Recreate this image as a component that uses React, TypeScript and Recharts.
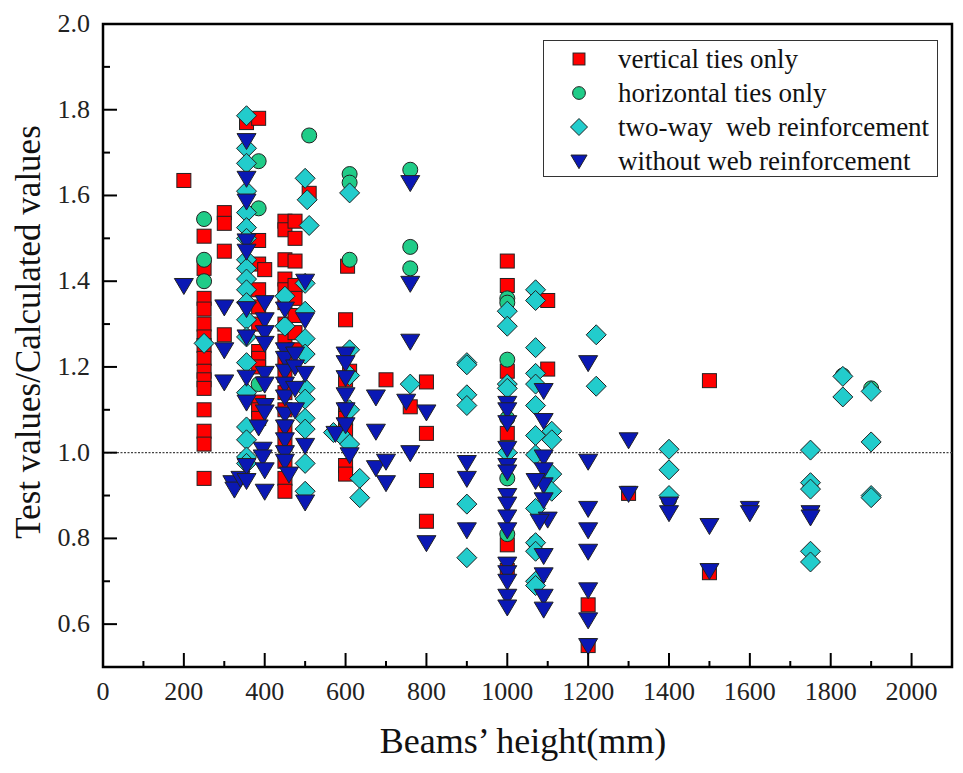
import React from 'react';
import { ScatterChart, Scatter, XAxis, YAxis, ReferenceLine, ReferenceArea, Legend } from 'recharts';

// tick values (labels only on every second one)
const xTicks = [0, 100, 200, 300, 400, 500, 600, 700, 800, 900, 1000, 1100, 1200, 1300, 1400, 1500, 1600, 1700, 1800, 1900, 2000];
const yTicks = [0.6, 0.7, 0.8, 0.9, 1.0, 1.1, 1.2, 1.3, 1.4, 1.5, 1.6, 1.7, 1.8, 1.9, 2.0];

// [beam height (mm), test / calculated]
const verticalTies: [number, number][] = [
  [200, 1.635],
  [250, 1.505], [250, 1.43], [250, 1.36], [250, 1.335], [250, 1.3], [250, 1.27], [250, 1.25], [250, 1.22],
  [250, 1.19], [250, 1.17], [250, 1.15], [250, 1.1], [250, 1.05], [250, 1.02], [250, 0.94],
  [300, 1.56], [300, 1.535], [300, 1.47], [300, 1.275],
  [355, 1.77],
  [385, 1.78], [385, 1.495], [385, 1.44], [385, 1.38], [385, 1.34], [385, 1.3], [385, 1.236], [385, 1.22],
  [385, 1.2], [385, 1.118], [385, 1.1], [385, 1.08], [400, 1.427],
  [450, 1.54], [450, 1.52], [450, 1.45], [450, 1.405], [450, 1.38], [450, 1.35], [450, 1.3], [450, 1.26],
  [450, 1.22], [450, 1.18], [450, 1.14], [450, 1.1], [450, 1.06], [450, 1.02], [450, 0.98], [450, 0.94], [450, 0.91],
  [475, 1.54], [475, 1.5], [475, 1.447], [475, 1.39], [475, 1.36], [475, 1.32], [475, 1.28], [475, 1.24],
  [510, 1.605],
  [600, 1.31], [600, 1.17], [600, 1.1], [600, 1.08], [600, 1.05], [600, 0.97], [600, 0.95], [605, 1.435], [610, 1.19],
  [700, 1.17],
  [760, 1.107],
  [800, 1.165], [800, 1.045], [800, 0.935], [800, 0.84],
  [1000, 1.447], [1000, 1.39], [1000, 1.19], [1000, 1.045], [1000, 0.785], [1000, 0.725],
  [1100, 1.355], [1100, 1.195],
  [1200, 0.645], [1200, 0.55],
  [1300, 0.905],
  [1500, 1.168], [1500, 0.72],
];

const horizontalTies: [number, number][] = [
  [250, 1.545], [250, 1.45], [250, 1.4],
  [385, 1.68], [385, 1.57], [385, 1.16],
  [510, 1.74],
  [610, 1.65], [610, 1.63], [610, 1.45],
  [760, 1.66], [760, 1.48], [760, 1.43],
  [1000, 1.36], [1000, 1.35], [1000, 1.217], [1000, 1.08], [1000, 0.94], [1000, 0.81],
  [1070, 0.79],
  [1400, 0.89],
  [1750, 0.92],
  [1830, 1.18],
  [1900, 1.15],
];

const twoWay: [number, number][] = [
  [250, 1.255],
  [355, 1.786], [355, 1.71], [355, 1.675], [355, 1.61], [355, 1.56], [355, 1.525], [355, 1.5], [355, 1.45],
  [355, 1.43], [355, 1.405], [355, 1.38], [355, 1.35], [355, 1.31], [355, 1.27], [355, 1.21], [355, 1.14],
  [355, 1.06], [355, 1.03], [355, 0.99], [355, 0.975],
  [450, 1.365], [450, 1.295],
  [500, 1.64], [505, 1.59], [510, 1.53], [500, 1.395], [500, 1.33], [500, 1.266], [500, 1.23], [500, 1.15],
  [500, 1.125], [500, 1.08], [500, 1.055], [500, 0.975], [500, 0.91],
  [570, 1.047], [590, 1.04],
  [610, 1.606], [610, 1.24], [610, 1.18], [610, 1.1], [610, 1.02],
  [635, 0.94], [635, 0.895],
  [760, 1.16],
  [900, 1.21], [900, 1.205], [900, 1.135], [900, 1.11], [900, 0.88], [900, 0.755],
  [1000, 1.33], [1000, 1.295], [1000, 1.16], [1000, 1.15], [1000, 1.0],
  [1070, 1.38], [1070, 1.355], [1070, 1.245], [1070, 1.185], [1070, 1.16], [1070, 1.11], [1070, 1.04],
  [1070, 0.995], [1070, 0.87], [1070, 0.79], [1070, 0.77], [1070, 0.7], [1070, 0.69],
  [1110, 1.05], [1110, 1.03], [1110, 0.95], [1110, 0.91],
  [1220, 1.275], [1220, 1.155],
  [1400, 1.008], [1400, 0.96], [1400, 0.9],
  [1750, 1.006], [1750, 0.93], [1750, 0.915], [1750, 0.77], [1750, 0.745],
  [1830, 1.178], [1830, 1.13],
  [1900, 1.143], [1900, 1.025], [1900, 0.9], [1900, 0.895],
];

const withoutWeb: [number, number][] = [
  [200, 1.39],
  [300, 1.34], [300, 1.24], [300, 1.165], [320, 0.93], [325, 0.915], [340, 0.94],
  [355, 1.728], [355, 1.64], [355, 1.587], [355, 1.494], [355, 1.47], [355, 1.336], [355, 1.27], [355, 1.176],
  [355, 1.118], [355, 0.97], [355, 0.935],
  [400, 1.35], [400, 1.31], [400, 1.28], [400, 1.255], [400, 1.185], [400, 1.16], [400, 1.11], [400, 1.095],
  [385, 1.06], [395, 1.008], [395, 0.99], [400, 0.96], [400, 0.91],
  [450, 1.335], [450, 1.24], [450, 1.22], [450, 1.19], [450, 1.16], [450, 1.13], [450, 1.09], [450, 1.06],
  [450, 1.03], [450, 1.0], [450, 0.98], [460, 0.95],
  [475, 1.23], [475, 1.2], [475, 1.15], [475, 1.1],
  [500, 1.4], [500, 1.31], [500, 1.185], [500, 1.017], [500, 0.885],
  [575, 1.045],
  [600, 1.23], [600, 1.21], [600, 1.175], [600, 1.135], [600, 1.1], [600, 1.065], [610, 0.995],
  [675, 1.13], [675, 1.05], [675, 0.965], [700, 0.98], [700, 0.93],
  [750, 1.12], [760, 1.63], [760, 1.395], [760, 1.26], [760, 1.0],
  [800, 1.095], [800, 0.79],
  [900, 0.977], [900, 0.94], [900, 0.82],
  [1000, 1.115], [1000, 1.1], [1000, 1.07], [1000, 1.01], [1000, 0.97], [1000, 0.955], [1000, 0.9], [1000, 0.88],
  [1000, 0.85], [1000, 0.82], [1000, 0.74], [1000, 0.72], [1000, 0.7], [1000, 0.665], [1000, 0.64],
  [1090, 1.145], [1090, 1.075], [1090, 0.99], [1090, 0.96], [1090, 0.925], [1070, 0.935], [1090, 0.89],
  [1100, 0.845], [1080, 0.84], [1090, 0.76], [1090, 0.715], [1090, 0.665], [1090, 0.635],
  [1200, 1.21], [1200, 0.98], [1200, 0.87], [1200, 0.82], [1200, 0.77], [1200, 0.68], [1200, 0.61], [1200, 0.55],
  [1300, 1.03], [1300, 0.905],
  [1400, 0.88], [1400, 0.86],
  [1500, 0.83], [1500, 0.725],
  [1600, 0.87], [1600, 0.86],
  [1750, 0.86], [1750, 0.85],
];

const RED = '#ff0000';
const GREEN = '#20cc88';
const CYAN = '#22cccc';
const BLUE = '#0a18b4';
const FONT = "'Liberation Serif', 'Times New Roman', serif";

const toPoints = (arr: [number, number][]) => arr.map(([x, y]) => ({ x, y }));

// marker shapes, s = scale
const squareMark = (cx: number, cy: number, s = 1) => (
  <rect x={cx - 7 * s} y={cy - 7 * s} width={14 * s} height={14 * s} fill={RED} stroke="#222" strokeWidth={1} />
);
const circleMark = (cx: number, cy: number, s = 1) => (
  <circle cx={cx} cy={cy} r={7.5 * s} fill={GREEN} stroke="#222" strokeWidth={1} />
);
const diamondMark = (cx: number, cy: number, s = 1) => (
  <polygon
    points={`${cx},${cy - 10 * s} ${cx + 10 * s},${cy} ${cx},${cy + 10 * s} ${cx - 10 * s},${cy}`}
    fill={CYAN}
    stroke="#222"
    strokeWidth={1}
  />
);
const triangleMark = (cx: number, cy: number, s = 1) => (
  <polygon
    points={`${cx - 9.5 * s},${cy - 7 * s} ${cx + 9.5 * s},${cy - 7 * s} ${cx},${cy + 9 * s}`}
    fill={BLUE}
    stroke="#222"
    strokeWidth={1}
  />
);

const series = [
  { name: 'vertical ties only', data: verticalTies, mark: squareMark },
  { name: 'horizontal ties only', data: horizontalTies, mark: circleMark },
  { name: 'two-way  web reinforcement', data: twoWay, mark: diamondMark },
  { name: 'without web reinforcement', data: withoutWeb, mark: triangleMark },
];

const XTick = ({ x, y, payload }: any) => {
  const major = payload.value % 200 === 0;
  return (
    <g>
      <line x1={x} x2={x} y1={y} y2={y - (major ? 14 : 6)} stroke="#000" strokeWidth={2} />
      {major && (
        <text x={x} y={y + 33} textAnchor="middle" fontSize={26} fontFamily={FONT} fill="#222">
          {payload.value}
        </text>
      )}
    </g>
  );
};

const YTick = ({ x, y, payload }: any) => {
  const major = Math.round(payload.value * 10) % 2 === 0;
  return (
    <g>
      <line x1={x} x2={x + (major ? 14 : 7)} y1={y} y2={y} stroke="#000" strokeWidth={2} />
      {major && (
        <text x={x - 13} y={y + 8} textAnchor="end" fontSize={26} fontFamily={FONT} fill="#222">
          {payload.value.toFixed(1)}
        </text>
      )}
    </g>
  );
};

const renderLegend = () => (
  <div
    style={{
      border: '1.5px solid #333',
      width: 395,
      height: 137,
      boxSizing: 'border-box',
      background: '#fff',
      paddingTop: 1,
    }}
  >
    {series.map((s) => (
      <div key={s.name} style={{ display: 'flex', alignItems: 'center', height: 34 }}>
        <svg width={20} height={20} style={{ marginLeft: 25 }}>
          {s.mark(10, 10, 0.85)}
        </svg>
        <span
          style={{
            marginLeft: 29,
            fontFamily: FONT,
            fontSize: 27,
            lineHeight: '34px',
            color: '#111',
            whiteSpace: 'pre',
          }}
        >
          {s.name}
        </span>
      </div>
    ))}
  </div>
);

export default function App() {
  return (
    <div style={{ width: 947, height: 757 }}>
      <ScatterChart width={947} height={757} margin={{ top: 16, right: 3, left: 0, bottom: 0 }}>
        <XAxis
          type="number"
          dataKey="x"
          domain={[0, 2100]}
          ticks={xTicks}
          interval={0}
          height={98}
          axisLine={false}
          tickLine={false}
          tickSize={0}
          tickMargin={0}
          tick={<XTick />}
          label={{
            content: () => (
              <text x={515} y={745} textAnchor="middle" fontSize={36} fontFamily={FONT} fill="#111">
                Beams’ height(mm)
              </text>
            ),
          }}
        />
        <YAxis
          type="number"
          dataKey="y"
          domain={[0.5, 2.0]}
          ticks={yTicks}
          interval={0}
          width={95}
          axisLine={false}
          tickLine={false}
          tickSize={0}
          tickMargin={0}
          tick={<YTick />}
          label={{
            content: () => (
              <text
                x={0}
                y={0}
                transform="translate(32, 324) rotate(-90)"
                textAnchor="middle"
                fontSize={35}
                fontFamily={FONT}
                fill="#111"
              >
                Test values/Calculated values
              </text>
            ),
          }}
        />
        <ReferenceLine y={1} stroke="#444" strokeWidth={1.2} strokeDasharray="2 1.5" />
        {series.map((s) => (
          <Scatter
            key={s.name}
            name={s.name}
            data={toPoints(s.data)}
            isAnimationActive={false}
            shape={(p: any) => s.mark(p.cx, p.cy)}
          />
        ))}
        <ReferenceArea x1={0} x2={2100} y1={0.5} y2={2.0} fill="none" stroke="#000" strokeWidth={2.5} />
        <Legend
          layout="vertical"
          align="center"
          verticalAlign="middle"
          content={renderLegend}
          wrapperStyle={{ top: 32, left: 535, width: 395 }}
        />
      </ScatterChart>
    </div>
  );
}
